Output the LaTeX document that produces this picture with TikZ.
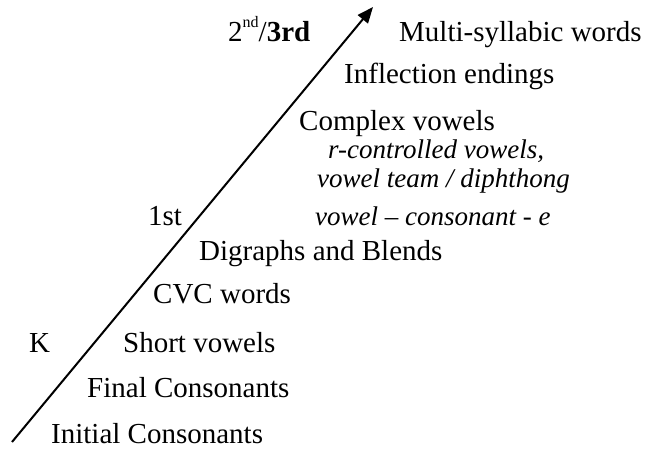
\documentclass[tikz,border=0pt]{standalone}
\usepackage{fontspec}
\setmainfont{Liberation Serif}
\usetikzlibrary{arrows.meta}

\begin{document}
\begin{tikzpicture}[x = 1pt,
                    y = -1pt,
                    scale = 1]

  % BOUNDING BOX
  \useasboundingbox (0, 0) rectangle (645, 450);


  % DEF POINTS
  \coordinate (arrow_start) at (12, 442);
  \coordinate (arrow_tip) at (373, 7);


  % STYLES
  \tikzstyle{stage_text} = [anchor=base west, inner sep=0pt, font=\fontsize{29}{34}\selectfont]
  \tikzstyle{detail_text} = [anchor=base west, inner sep=0pt, font=\fontsize{27}{32}\selectfont\itshape]
  \tikzstyle{arrow_style} = [draw=black, line width=2pt, -{Triangle[length=16pt, width=13pt]}]


  % ARROW
  \draw[arrow_style] (arrow_start) -- (arrow_tip);


  % GRADES
  \node[stage_text] (grade_k) at (29, 352) {K};
  \node[stage_text] (grade_1) at (148, 225) {1st};
  \node[stage_text] (grade_23) at (228, 41) {2\raisebox{14pt}{\fontsize{16}{16}\selectfont nd}/\textbf{3rd}};


  % STAGES
  \node[stage_text] (initial_cons) at (51, 443) {Initial Consonants};
  \node[stage_text] (final_cons) at (87, 397) {Final Consonants};
  \node[stage_text] (short_vow) at (123, 352) {Short vowels};
  \node[stage_text] (cvc_words) at (153, 303) {CVC words};
  \node[stage_text] (digraphs) at (199, 260) {Digraphs and Blends};
  \node[stage_text] (complex_vow) at (299, 130) {Complex vowels};
  \node[stage_text] (inflection) at (344, 83) {Inflection endings};
  \node[stage_text] (multi_syl) at (399, 41) {Multi-syllabic words};


  % DETAILS
  \node[detail_text] (r_controlled) at (328, 158) {r-controlled vowels,};
  \node[detail_text] (vowel_team) at (317, 187) {vowel team / diphthong};
  \node[detail_text] (vowel_cons_e) at (315, 225) {vowel – consonant - e};

\end{tikzpicture}
\end{document}
